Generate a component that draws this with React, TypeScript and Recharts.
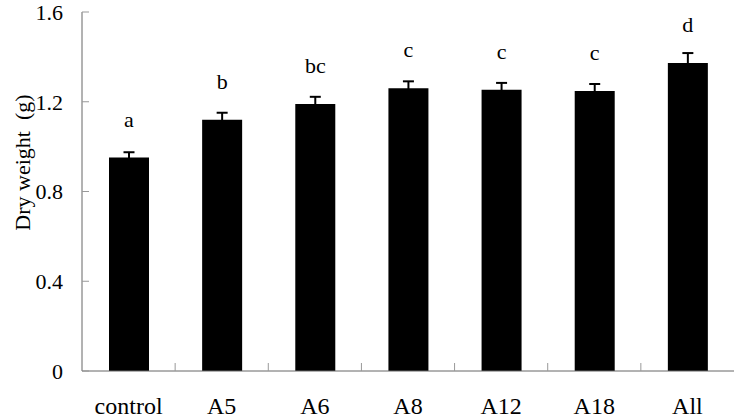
import React from 'react';
import { BarChart, Bar, XAxis, YAxis, ErrorBar, LabelList, Label } from 'recharts';

const categories = ['control', 'A5', 'A6', 'A8', 'A12', 'A18', 'All'];
const dryWeight = [0.951, 1.12, 1.19, 1.26, 1.254, 1.248, 1.373];
const stdError = [0.024, 0.031, 0.032, 0.031, 0.03, 0.031, 0.044];
const letters = ['a', 'b', 'bc', 'c', 'c', 'c', 'd'];
const yTicks = [0, 0.4, 0.8, 1.2, 1.6];

const data = categories.map((c, i) => ({
  name: c,
  value: dryWeight[i],
  err: stdError[i],
  letter: letters[i],
}));

const FONT = '"Liberation Serif", "Times New Roman", serif';
const AXIS = '#666666';
const X_TICK_SIZE = -6;
const X_TICK_MARGIN = 32;

const XTick = (props: any) => {
  const { x, y, payload, index, visibleTicksCount } = props;
  const axisY = y - (X_TICK_SIZE + X_TICK_MARGIN);
  const half = payload && typeof payload.offset === 'number' && payload.offset > 0 ? payload.offset : 46.5;
  const count = visibleTicksCount ?? categories.length;
  return (
    <g>
      {index < count - 1 && (
        <line x1={x + half} x2={x + half} y1={axisY} y2={axisY - 8} stroke="#999" strokeWidth={1} />
      )}
      <text x={x} y={y} dy="0.71em" textAnchor="middle" fontSize={24} fontFamily={FONT} fill="#000">
        {payload.value}
      </text>
    </g>
  );
};

export default function App() {
  return (
    <div style={{ position: 'absolute', left: 0, top: 0, background: '#fff' }}>
      <BarChart
        width={737}
        height={418}
        data={data}
        margin={{ top: 12, right: 3, left: 0, bottom: 0 }}
      >
        <XAxis
          dataKey="name"
          height={47}
          interval={0}
          axisLine={{ stroke: AXIS }}
          tickLine={false}
          tickSize={X_TICK_SIZE}
          tickMargin={X_TICK_MARGIN}
          tick={<XTick />}
        />
        <XAxis
          xAxisId="top"
          orientation="top"
          dataKey="name"
          height={0}
          tick={false}
          tickLine={false}
          axisLine={{ stroke: AXIS }}
        />
        <YAxis
          width={82}
          domain={[0, 1.6]}
          ticks={yTicks}
          interval={0}
          allowDataOverflow
          axisLine={{ stroke: AXIS }}
          tickLine={{ stroke: '#999' }}
          tickSize={-7}
          tickMargin={26}
          tick={{ fill: '#000', fontSize: 22, fontFamily: FONT }}
        >
          <Label
            content={(props: any) => {
              const vb = props.viewBox || {};
              const cx = 22;
              const cy = vb.y + vb.height / 2 - 29;
              return (
                <text
                  x={cx}
                  y={cy}
                  transform={`rotate(-90 ${cx} ${cy})`}
                  textAnchor="middle"
                  dominantBaseline="central"
                  fontSize={22}
                  fontFamily={FONT}
                  fill="#000"
                  style={{ whiteSpace: 'pre' }}
                >
                  {'Dry weight  (g)'}
                </text>
              );
            }}
          />
        </YAxis>
        <YAxis
          yAxisId="right"
          orientation="right"
          width={0}
          domain={[0, 1.6]}
          tick={false}
          tickLine={false}
          axisLine={{ stroke: AXIS }}
        />
        <Bar dataKey="value" fill="#000" barSize={40} isAnimationActive={false}>
          <ErrorBar dataKey="err" width={5.5} stroke="#000" strokeWidth={2} direction="y" />
          <LabelList
            dataKey="letter"
            position="top"
            offset={31}
            fill="#000"
            fontSize={22}
            fontFamily={FONT}
          />
        </Bar>
      </BarChart>
    </div>
  );
}
